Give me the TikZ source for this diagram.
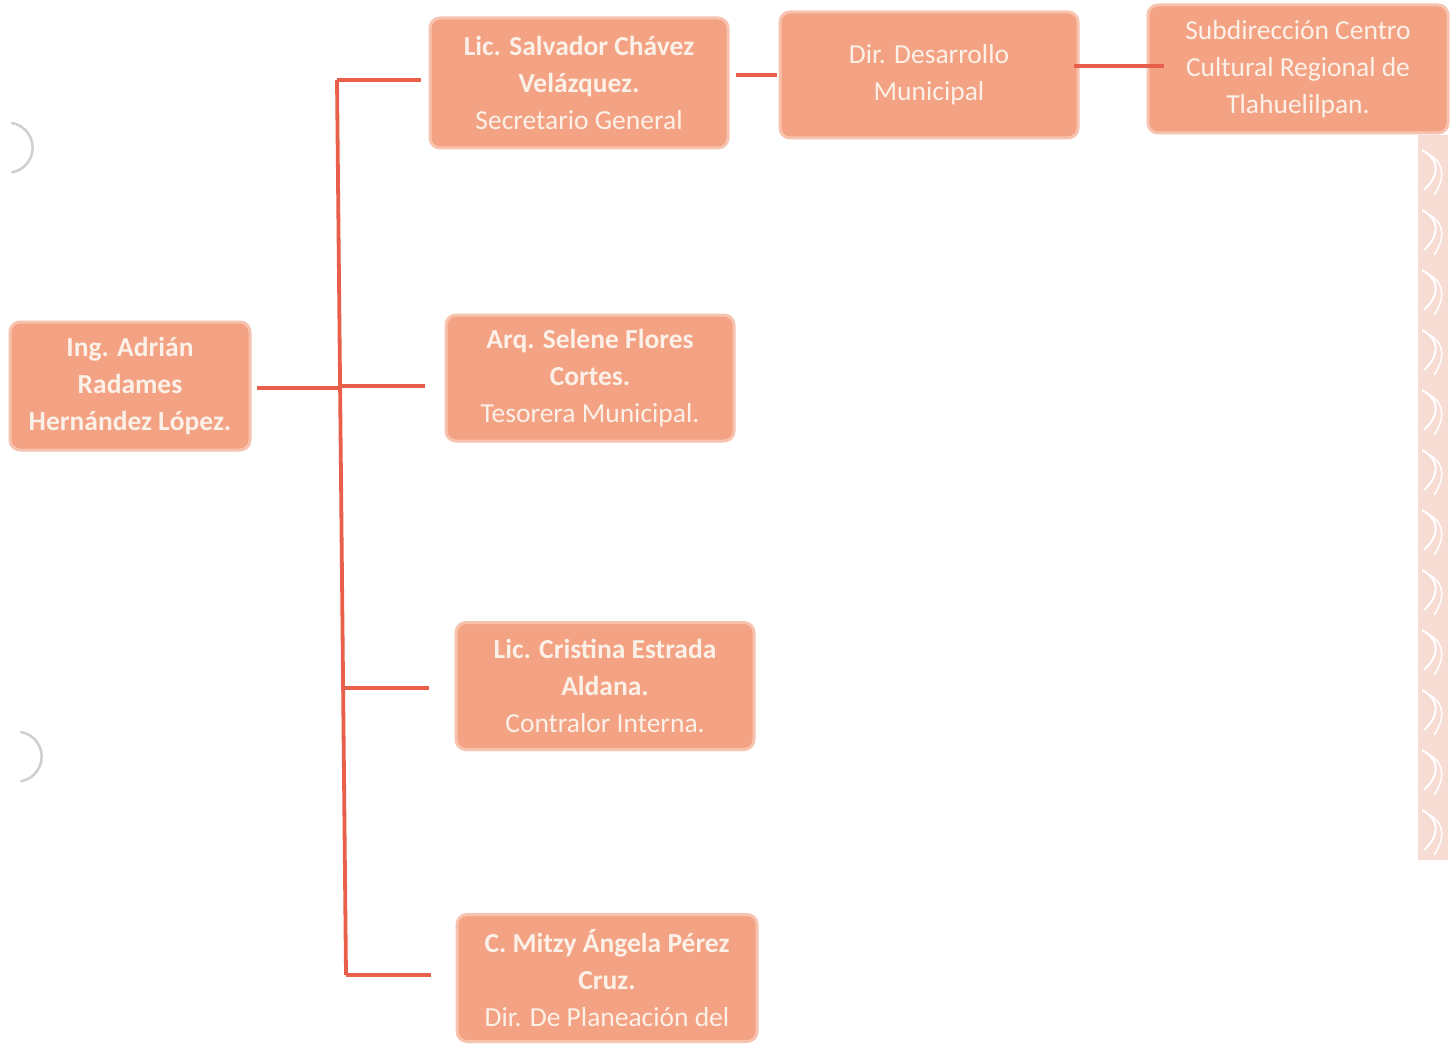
\documentclass[tikz,border=0pt]{standalone}
\usepackage{fontspec}
\setmainfont{Carlito}
\begin{document}
\begin{tikzpicture}[x=1pt,y=-1pt,
  box/.style={rounded corners=10pt, fill=boxfill, draw=boxedge, line width=3pt,
    text=boxtext, align=center, inner sep=0pt,
    font=\fontsize{27.5}{37}\selectfont},
  conn/.style={draw=connline, line width=3.8pt},
  hole/.style={draw=holegray, line width=2.5pt, line cap=round}]
\definecolor{boxfill}{HTML}{F3A283}
\definecolor{boxedge}{HTML}{F7C3AE}
\definecolor{boxtext}{HTML}{FCF1E8}
\definecolor{connline}{HTML}{E8604B}
\definecolor{holegray}{HTML}{CFCFCF}
\definecolor{strip}{HTML}{F7DCD3}
\useasboundingbox (0,0) rectangle (1454,1046);
\fill[white] (0,0) rectangle (1454,1046);
\begin{scope}
\clip (0,0) rectangle (1454,1046);
% nodes
\node[box, minimum width=240, minimum height=128] (root) at (130,386)
  {\textbf{Ing. Adrián}\\\textbf{Radames}\\\textbf{Hernández López.}};
\node[box, minimum width=298, minimum height=130] (sal) at (579,83)
  {\textbf{Lic. Salvador Chávez}\\\textbf{Velázquez.}\\Secretario General};
\node[box, minimum width=298, minimum height=126] (dir) at (929,75)
  {Dir. Desarrollo\\Municipal};
\node[box, minimum width=300, minimum height=128] (sub) at (1298,69)
  {Subdirección Centro\\Cultural Regional de\\Tlahuelilpan.};
\node[box, minimum width=288, minimum height=126] (sel) at (590,378)
  {\textbf{Arq. Selene Flores}\\\textbf{Cortes.}\\Tesorera Municipal.};
\node[box, minimum width=298, minimum height=127] (cri) at (605,686)
  {\textbf{Lic. Cristina Estrada}\\\textbf{Aldana.}\\Contralor Interna.};
\node[box, minimum width=300, minimum height=127] (mit) at (607,978)
  {\textbf{C. Mitzy Ángela Pérez}\\\textbf{Cruz.}\\Dir. De Planeación del};
% trunk coordinates
\coordinate (b1) at (337,80);
\coordinate (b2) at (340,386);
\coordinate (b3) at (343,688);
\coordinate (b4) at (346,975);
\coordinate (br) at (340,388);
% connectors
\draw[conn] (b1) -- (b4);
\draw[conn, shorten >=8pt] (b1) -- (b1 -| sal.west);
\draw[conn, shorten >=20pt] (b2) -- (b2 -| sel.west);
\draw[conn, shorten >=26pt] (b3) -- (b3 -| cri.west);
\draw[conn, shorten >=25pt] (b4) -- (b4 -| mit.west);
\draw[conn, shorten <=5pt] (root.east |- br) -- (br);
\draw[conn, shorten <=6pt, shorten >=2pt] (sal.east |- 0,75) -- (dir.west |- 0,75);
\draw[conn, shorten <=-6pt, shorten >=-17pt] (dir.east |- 0,66) -- (sub.west |- 0,66);
% decorative right strip
\fill[strip] (1418,135) rectangle (1448,860);
\foreach \yy in {150,210,...,840}{
  \draw[white, line width=2pt] (1422,\yy) .. controls (1440,\yy+10) and (1440,\yy+25) .. (1424,\yy+40);
  \draw[white, line width=1.5pt] (1430,\yy+5) .. controls (1446,\yy+15) and (1444,\yy+30) .. (1434,\yy+45);
}
% binder holes
\draw[hole] (12,123) arc[start angle=-80, end angle=80, radius=25];
\draw[hole] (21,732) arc[start angle=-80, end angle=80, radius=25];
\end{scope}
\end{tikzpicture}
\end{document}
